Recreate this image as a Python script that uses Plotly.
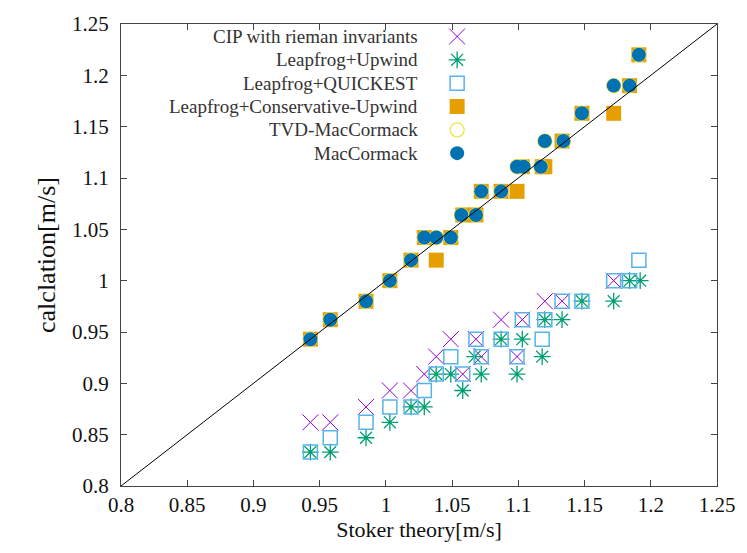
import plotly.graph_objects as go

# Stoker theory [m/s] vs computed front velocity [m/s] for each scheme
cip_x = [0.943, 0.958, 0.985, 1.003, 1.019, 1.029, 1.038, 1.049, 1.058, 1.068,
         1.072, 1.087, 1.099, 1.103, 1.120, 1.133, 1.172]
cip_y = [0.862, 0.862, 0.877, 0.893, 0.893, 0.909, 0.926, 0.943, 0.909, 0.943,
         0.926, 0.962, 0.926, 0.962, 0.980, 0.980, 1.000]

upwind_x = [0.943, 0.958, 0.985, 1.003, 1.019, 1.029, 1.038, 1.049, 1.058, 1.067,
            1.072, 1.087, 1.099, 1.103, 1.118, 1.120, 1.133, 1.148, 1.172, 1.184, 1.192]
upwind_y = [0.833, 0.833, 0.847, 0.862, 0.877, 0.877, 0.909, 0.909, 0.893, 0.926,
            0.909, 0.943, 0.909, 0.943, 0.926, 0.962, 0.962, 0.980, 0.980, 1.000, 1.000]

quick_x = [0.943, 0.958, 0.985, 1.003, 1.019, 1.029, 1.038, 1.049, 1.058, 1.068,
           1.072, 1.087, 1.099, 1.103, 1.118, 1.120, 1.133, 1.148, 1.172, 1.184, 1.191]
quick_y = [0.833, 0.847, 0.862, 0.877, 0.877, 0.893, 0.909, 0.926, 0.909, 0.943,
           0.926, 0.943, 0.926, 0.962, 0.943, 0.962, 0.980, 0.980, 1.000, 1.000, 1.020]

cons_x = [0.943, 0.958, 0.985, 1.003, 1.019, 1.029, 1.038, 1.049, 1.058, 1.068,
          1.072, 1.087, 1.099, 1.103, 1.118, 1.120, 1.133, 1.148, 1.172, 1.184, 1.191]
cons_y = [0.943, 0.962, 0.980, 1.000, 1.020, 1.042, 1.020, 1.042, 1.064, 1.064,
          1.087, 1.087, 1.087, 1.111, 1.111, 1.111, 1.136, 1.163, 1.163, 1.190, 1.220]

mac_x = [0.943, 0.958, 0.985, 1.003, 1.019, 1.029, 1.038, 1.049, 1.057, 1.068,
         1.072, 1.087, 1.099, 1.104, 1.117, 1.120, 1.134, 1.148, 1.172, 1.184, 1.191]
mac_y = [0.943, 0.962, 0.980, 1.000, 1.020, 1.042, 1.042, 1.042, 1.064, 1.064,
         1.087, 1.087, 1.111, 1.111, 1.111, 1.136, 1.136, 1.163, 1.190, 1.190, 1.220]

# TVD-MacCormack gives the same velocities as MacCormack
tvd_x = list(mac_x)
tvd_y = list(mac_y)

ideal = [0.8, 1.25]
ticks = [0.8, 0.85, 0.9, 0.95, 1.0, 1.05, 1.1, 1.15, 1.2, 1.25]
tick_text = ["0.8", "0.85", "0.9", "0.95", "1", "1.05", "1.1", "1.15", "1.2", "1.25"]

series = [
    ("CIP with rieman invariants", cip_x, cip_y,
     dict(symbol="x-thin-open", size=16, color="#9400d3", line=dict(width=1, color="#b05ce6"))),
    ("Leapfrog+Upwind", upwind_x, upwind_y,
     dict(symbol="asterisk-open", size=14, color="#009e73", line=dict(width=1.3, color="#2aae86"))),
    ("Leapfrog+QUICKEST", quick_x, quick_y,
     dict(symbol="square-open", size=14, color="#56b4e9", line=dict(width=1.5, color="#7cc4ee"))),
    ("Leapfrog+Conservative-Upwind", cons_x, cons_y,
     dict(symbol="square", size=15, color="#e69f00", line=dict(width=0))),
    ("TVD-MacCormack", tvd_x, tvd_y,
     dict(symbol="circle-open", size=14, color="#f0e442", line=dict(width=1.3, color="#f0e442"))),
    ("MacCormack", mac_x, mac_y,
     dict(symbol="circle", size=14, color="#0072b2", line=dict(width=0))),
]

FONT = "Liberation Serif, Times New Roman, serif"

fig = go.Figure()
for name, xs, ys, mk in series:
    fig.add_trace(go.Scatter(x=xs, y=ys, mode="markers", name=name,
                             marker=mk, showlegend=False, cliponaxis=False))

fig.add_trace(go.Scatter(x=ideal, y=ideal, mode="lines",
                         line=dict(color="black", width=1), showlegend=False))

# Key: right-aligned labels with their symbol to the right, drawn in a
# unit overlay frame covering the plot area
key_top = 0.973
key_step = 0.0505
key_text_x = 0.502
key_mark_x = 0.564
for i, (name, xs, ys, mk) in enumerate(series):
    ky = key_top - i * key_step
    fig.add_trace(go.Scatter(x=[key_mark_x], y=[ky], mode="markers", marker=mk,
                             xaxis="x2", yaxis="y2", showlegend=False, hoverinfo="skip"))
    fig.add_annotation(x=key_text_x, y=ky, xref="x2", yref="y2", text=name,
                       showarrow=False, xanchor="right", yanchor="middle",
                       font=dict(family=FONT, size=19, color="#333"))

axis_common = dict(
    range=[0.8, 1.25], tickvals=ticks, ticktext=tick_text,
    ticks="inside", ticklen=6, tickwidth=1, tickcolor="#444",
    showline=True, linecolor="#444", linewidth=1.2, mirror="ticks",
    showgrid=False, zeroline=False,
    tickfont=dict(family=FONT, size=21, color="#111"),
)

fig.update_layout(
    width=747, height=553,
    margin=dict(l=121, r=25, t=22, b=67),
    paper_bgcolor="white", plot_bgcolor="white",
    xaxis=dict(**axis_common,
               title=dict(text="Stoker theory[m/s]", standoff=4,
                          font=dict(family=FONT, size=22, color="#111"))),
    yaxis=dict(**axis_common, ticklabelstandoff=7,
               title=dict(text="calclation[m/s]", standoff=8,
                          font=dict(family=FONT, size=26, color="#111"))),
    xaxis2=dict(range=[0, 1], overlaying="x", visible=False),
    yaxis2=dict(range=[0, 1], overlaying="y", visible=False),
    showlegend=False,
)

fig.write_html("out.html")
